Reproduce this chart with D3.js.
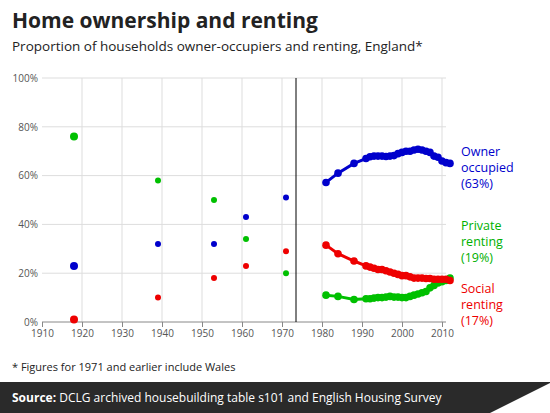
<!DOCTYPE html>
<html><head><meta charset="utf-8">
<script src="https://cdn.jsdelivr.net/npm/d3@7"></script>
<style>body{margin:0;background:#fff;font-family:"Open Sans",sans-serif}</style>
</head><body><svg id="c" width="550" height="413"></svg>
<script>
// early survey points (1971 and earlier include Wales)
const earlyYears = [1918, 1939, 1953, 1961, 1971];
const earlyOwner = [23, 32, 32, 43, 51];
const earlyPrivate = [76, 58, 50, 34, 20];
const earlySocial = [1, 10, 18, 23, 29];

const years = [1981, 1984, 1988, 1991, 1992, 1993, 1994, 1995, 1996, 1997, 1998, 1999, 2000, 2001, 2002, 2003, 2004, 2005, 2006, 2007, 2008, 2009, 2010, 2011, 2012];
const owner = [57.2, 61, 65, 67, 67.7, 68, 68, 68, 67.8, 68, 68.2, 69, 69.5, 70, 70, 70.5, 70.8, 70.5, 70, 69.5, 68, 67.5, 66, 65.3, 65];
const privateRent = [11, 10.5, 9.2, 9.5, 9.5, 9.8, 10, 10, 10.2, 10.5, 10.2, 10.2, 10, 10, 10.5, 11, 11.5, 12, 12.5, 14, 15, 16, 16.5, 17, 18];
const social = [31.5, 28, 25, 23, 22.5, 22, 21.5, 21.5, 21, 20.5, 20, 19.5, 19, 19, 18.5, 18, 18, 18, 17.8, 17.8, 17.5, 17.5, 17.5, 17.5, 17];
const xTicks = d3.range(1910, 2011, 10);
const yTicks = [0, 20, 40, 60, 80, 100];

const svg = d3.select("#c");
const x = d3.scaleLinear().domain([1910, 2010]).range([42, 442]);
const y = d3.scaleLinear().domain([0, 100]).range([322, 78]);

// titles
svg.append("text").attr("x", 12).attr("y", 28).attr("font-size", 21).attr("font-weight", "bold").attr("fill", "#222").text("Home ownership and renting");
svg.append("text").attr("x", 12).attr("y", 51).attr("font-size", 13.5).attr("fill", "#222").text("Proportion of households owner-occupiers and renting, England*");

// grid
svg.append("g").selectAll("line").data(yTicks.slice(1)).join("line")
    .attr("x1", 42).attr("x2", 446).attr("y1", d => y(d)).attr("y2", d => y(d))
    .attr("stroke", "#ddd");
svg.append("g").selectAll("line").data(xTicks.slice(1)).join("line")
    .attr("x1", d => x(d)).attr("x2", d => x(d)).attr("y1", 78).attr("y2", 322)
    .attr("stroke", "#ddd");

// axes
const xa = svg.append("g").attr("transform", "translate(0,322)")
    .call(d3.axisBottom(x).tickValues(xTicks).tickFormat(d3.format("d")).tickSize(5));
xa.select(".domain").attr("stroke", "#888").attr("d", "M42,0H446");
xa.selectAll(".tick line").attr("stroke", "#888");
xa.selectAll("text").attr("font-size", 10).attr("fill", "#555").attr("font-family", "Open Sans");
const ya = svg.append("g").attr("transform", "translate(42,0)")
    .call(d3.axisLeft(y).tickValues(yTicks).tickFormat(d => d + "%").tickSize(0).tickPadding(4));
ya.select(".domain").remove();
ya.selectAll("text").attr("font-size", 10).attr("fill", "#555").attr("font-family", "Open Sans");

// divider between series
svg.append("line").attr("x1", x(1973.5)).attr("x2", x(1973.5)).attr("y1", 78).attr("y2", 322).attr("stroke", "#000");

const series = [
    {early: earlyOwner, vals: owner, color: "#0000cc"},
    {early: earlyPrivate, vals: privateRent, color: "#00c000"},
    {early: earlySocial, vals: social, color: "#ee0000"}
];
const line = d3.line().x((d, i) => x(years[i])).y(d => y(d));
series.forEach(s => {
    svg.append("g").selectAll("circle").data(s.early).join("circle")
        .attr("cx", (d, i) => x(earlyYears[i])).attr("cy", d => y(d))
        .attr("r", (d, i) => i === 0 ? 4 : 3).attr("fill", s.color);
    svg.append("path").datum(s.vals).attr("d", line).attr("fill", "none")
        .attr("stroke", s.color).attr("stroke-width", 3);
    svg.append("g").selectAll("circle").data(s.vals).join("circle")
        .attr("cx", (d, i) => x(years[i])).attr("cy", d => y(d)).attr("r", 3.8).attr("fill", s.color);
});

// labels
const labels = [
    {t: ["Owner", "occupied", "(63%)"], y: 156, c: "#0000cc"},
    {t: ["Private", "renting", "(19%)"], y: 230, c: "#00b000"},
    {t: ["Social", "renting", "(17%)"], y: 293, c: "#ee0000"}
];
labels.forEach(l => {
    svg.append("text").attr("x", 461).attr("y", l.y).attr("font-size", 12.5).attr("fill", l.c)
        .selectAll("tspan").data(l.t).join("tspan").attr("x", 461).attr("dy", (d, i) => i ? 16 : 0).text(d => d);
});

svg.append("text").attr("x", 12).attr("y", 371).attr("font-size", 11).attr("fill", "#222").text("* Figures for 1971 and earlier include Wales");

// footer
svg.append("rect").attr("x", 0).attr("y", 382).attr("width", 550).attr("height", 31).attr("fill", "#2a2a2a");
const src = svg.append("text").attr("x", 12).attr("y", 402).attr("font-size", 12).attr("fill", "#fff");
src.append("tspan").attr("font-weight", "bold").text("Source: ");
src.append("tspan").text("DCLG archived housebuilding table s101 and English Housing Survey");
svg.append("path").attr("d", "M490,413L550,413L550,383Z").attr("fill", "#fff");
</script></body></html>
